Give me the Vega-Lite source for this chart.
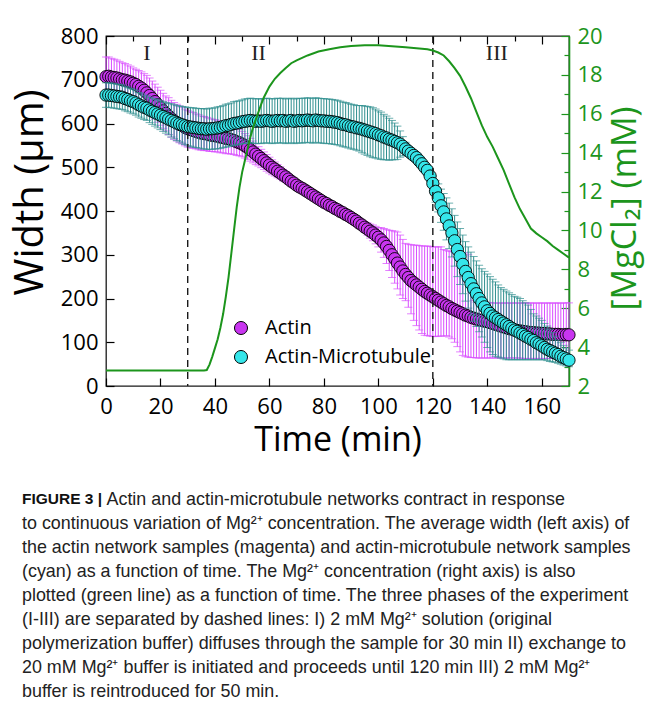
{
"$schema": "https://vega.github.io/schema/vega-lite/v6.json",
"width": 463, "height": 350,
"autosize": {"type": "none"},
"padding": {"left": 106, "top": 36, "right": 82, "bottom": 338},
"background": "white",
"config": {
  "view": {"stroke": "#1a1a1a", "strokeWidth": 1.3},
  "axis": {"grid": false, "labelFont": "Open Sans", "titleFont": "Open Sans", "labelColor": "black", "titleColor": "black", "titleFontWeight": "normal", "labelFlush": false, "labelOverlap": false, "tickColor": "black", "tickWidth": 1.2}
},
"title": {
  "text": "FIGURE 3 |",
  "subtitle": [
    "\u200b\u00a0\u00a0\u00a0\u00a0\u00a0\u00a0\u00a0\u00a0\u00a0\u00a0\u00a0\u00a0\u00a0\u00a0\u00a0\u00a0\u00a0Actin and actin-microtubule networks contract in response",
    "to continuous variation of Mg²⁺ concentration. The average width (left axis) of",
    "the actin network samples (magenta) and actin-microtubule network samples",
    "(cyan) as a function of time. The Mg²⁺ concentration (right axis) is also",
    "plotted (green line) as a function of time. The three phases of the experiment",
    "(I-III) are separated by dashed lines: I) 2 mM Mg²⁺ solution (original",
    "polymerization buffer) diffuses through the sample for 30 min II) exchange to",
    "20 mM Mg²⁺ buffer is initiated and proceeds until 120 min III) 2 mM Mg²⁺",
    "buffer is reintroduced for 50 min."
  ],
  "orient": "bottom", "anchor": "start", "frame": "group",
  "font": "Liberation Sans", "fontSize": 15.5, "fontWeight": "bold", "color": "#111111",
  "subtitleFont": "Liberation Sans", "subtitleFontSize": 17.9, "subtitleColor": "#222222", "subtitleLineHeight": 24,
  "subtitlePadding": -17,
  "dx": -84, "offset": 35
},
"datasets": {
"dash": [{"t": 30}, {"t": 120}],
"ph": [{"t": 15, "lab": "I"}, {"t": 56, "lab": "II"}, {"t": 143.5, "lab": "III"}],
"mg": [
{"t":0,"mg":2.8},{"t":10,"mg":2.8},{"t":20,"mg":2.8},{"t":30,"mg":2.8},{"t":36,"mg":2.8},{"t":37,"mg":2.82},{"t":38,"mg":3.1},{"t":39,"mg":3.5},{"t":40,"mg":3.95},{"t":41,"mg":4.4},{"t":42,"mg":5.0},{"t":43,"mg":5.7},{"t":44,"mg":6.6},{"t":45,"mg":7.6},{"t":46,"mg":8.8},{"t":47,"mg":10.0},{"t":48,"mg":11.2},{"t":49,"mg":12.2},{"t":50,"mg":13.0},{"t":51,"mg":13.6},{"t":52,"mg":14.2},{"t":53,"mg":14.8},{"t":54,"mg":15.3},{"t":55,"mg":15.7},{"t":56,"mg":16.1},{"t":57,"mg":16.5},{"t":58,"mg":16.85},{"t":60,"mg":17.4},{"t":62,"mg":17.8},{"t":64,"mg":18.1},{"t":66,"mg":18.35},{"t":68,"mg":18.6},{"t":70,"mg":18.75},{"t":74,"mg":19.0},{"t":78,"mg":19.2},{"t":82,"mg":19.32},{"t":86,"mg":19.42},{"t":90,"mg":19.48},{"t":95,"mg":19.53},{"t":100,"mg":19.52},{"t":105,"mg":19.47},{"t":110,"mg":19.42},{"t":115,"mg":19.36},{"t":118,"mg":19.32},{"t":120,"mg":19.25},{"t":122,"mg":19.15},{"t":124,"mg":19.0},{"t":126,"mg":18.7},{"t":128,"mg":18.35},{"t":130,"mg":17.95},{"t":132,"mg":17.4},{"t":134,"mg":16.8},{"t":136,"mg":16.1},{"t":138,"mg":15.4},{"t":140,"mg":14.8},{"t":142,"mg":14.3},{"t":144,"mg":13.7},{"t":146,"mg":13.1},{"t":148,"mg":12.4},{"t":150,"mg":11.7},{"t":152,"mg":11.1},{"t":154,"mg":10.6},{"t":156,"mg":10.1},{"t":158,"mg":9.85},{"t":160,"mg":9.65},{"t":162,"mg":9.45},{"t":164,"mg":9.2},{"t":166,"mg":9.0},{"t":168,"mg":8.8},{"t":170,"mg":8.6}
],
"w": [
{"t":0,"s":"Actin","w":707,"p":45,"n":-45},{"t":1,"s":"Actin","w":708,"p":44,"n":-44},{"t":2,"s":"Actin","w":706,"p":43,"n":-43},{"t":3,"s":"Actin","w":705,"p":42,"n":-42},{"t":4,"s":"Actin","w":704,"p":41,"n":-41},{"t":5,"s":"Actin","w":702,"p":40,"n":-40},{"t":6,"s":"Actin","w":700,"p":39,"n":-39},{"t":7,"s":"Actin","w":699,"p":38,"n":-38},{"t":8,"s":"Actin","w":697,"p":37,"n":-37},{"t":9,"s":"Actin","w":695,"p":36,"n":-36},
{"t":10,"s":"Actin","w":692,"p":35,"n":-35},{"t":11,"s":"Actin","w":689,"p":35,"n":-35},{"t":12,"s":"Actin","w":685,"p":36,"n":-36},{"t":13,"s":"Actin","w":681,"p":37,"n":-37},{"t":14,"s":"Actin","w":676,"p":38,"n":-38},{"t":15,"s":"Actin","w":670,"p":40,"n":-40},{"t":16,"s":"Actin","w":664,"p":40,"n":-40},{"t":17,"s":"Actin","w":657,"p":40,"n":-40},{"t":18,"s":"Actin","w":650,"p":40,"n":-40},{"t":19,"s":"Actin","w":643,"p":40,"n":-40},
{"t":20,"s":"Actin","w":636,"p":40,"n":-40},{"t":21,"s":"Actin","w":629,"p":40,"n":-40},{"t":22,"s":"Actin","w":623,"p":40,"n":-40},{"t":23,"s":"Actin","w":617,"p":42,"n":-42},{"t":24,"s":"Actin","w":611,"p":42,"n":-42},{"t":25,"s":"Actin","w":606,"p":42,"n":-42},{"t":26,"s":"Actin","w":602,"p":42,"n":-42},{"t":27,"s":"Actin","w":598,"p":42,"n":-42},{"t":28,"s":"Actin","w":595,"p":42,"n":-42},{"t":29,"s":"Actin","w":591,"p":42,"n":-42},
{"t":30,"s":"Actin","w":588,"p":42,"n":-42},{"t":31,"s":"Actin","w":586,"p":41,"n":-41},{"t":32,"s":"Actin","w":584,"p":41,"n":-41},{"t":33,"s":"Actin","w":582,"p":40,"n":-40},{"t":34,"s":"Actin","w":580,"p":40,"n":-40},{"t":35,"s":"Actin","w":578,"p":39,"n":-39},{"t":36,"s":"Actin","w":577,"p":39,"n":-39},{"t":37,"s":"Actin","w":576,"p":38,"n":-38},{"t":38,"s":"Actin","w":574,"p":38,"n":-38},{"t":39,"s":"Actin","w":573,"p":37,"n":-37},
{"t":40,"s":"Actin","w":572,"p":37,"n":-37},{"t":41,"s":"Actin","w":571,"p":36,"n":-36},{"t":42,"s":"Actin","w":569,"p":36,"n":-36},{"t":43,"s":"Actin","w":568,"p":35,"n":-35},{"t":44,"s":"Actin","w":566,"p":35,"n":-35},{"t":45,"s":"Actin","w":565,"p":34,"n":-34},{"t":46,"s":"Actin","w":563,"p":33,"n":-33},{"t":47,"s":"Actin","w":561,"p":32,"n":-32},{"t":48,"s":"Actin","w":558,"p":31,"n":-31},{"t":49,"s":"Actin","w":556,"p":30,"n":-30},
{"t":50,"s":"Actin","w":553,"p":29,"n":-29},{"t":51,"s":"Actin","w":549,"p":28,"n":-28},{"t":52,"s":"Actin","w":545,"p":27,"n":-27},{"t":53,"s":"Actin","w":540,"p":26,"n":-26},{"t":54,"s":"Actin","w":535,"p":25,"n":-25},{"t":55,"s":"Actin","w":530,"p":24,"n":-24},{"t":56,"s":"Actin","w":525,"p":22,"n":-22},{"t":57,"s":"Actin","w":520,"p":21,"n":-21},{"t":58,"s":"Actin","w":515,"p":20,"n":-20},{"t":59,"s":"Actin","w":510,"p":19,"n":-19},
{"t":60,"s":"Actin","w":505,"p":18,"n":-18},{"t":61,"s":"Actin","w":500,"p":17,"n":-17},{"t":62,"s":"Actin","w":496,"p":16,"n":-16},{"t":63,"s":"Actin","w":491,"p":15,"n":-15},{"t":64,"s":"Actin","w":487,"p":14,"n":-14},{"t":65,"s":"Actin","w":482,"p":13,"n":-13},{"t":66,"s":"Actin","w":478,"p":12,"n":-12},{"t":67,"s":"Actin","w":473,"p":11,"n":-11},{"t":68,"s":"Actin","w":468,"p":10,"n":-10},{"t":69,"s":"Actin","w":464,"p":10,"n":-10},
{"t":70,"s":"Actin","w":459,"p":10,"n":-10},{"t":71,"s":"Actin","w":455,"p":10,"n":-10},{"t":72,"s":"Actin","w":452,"p":10,"n":-10},{"t":73,"s":"Actin","w":448,"p":10,"n":-10},{"t":74,"s":"Actin","w":444,"p":10,"n":-10},{"t":75,"s":"Actin","w":440,"p":10,"n":-10},{"t":76,"s":"Actin","w":436,"p":10,"n":-10},{"t":77,"s":"Actin","w":432,"p":10,"n":-10},{"t":78,"s":"Actin","w":428,"p":10,"n":-10},{"t":79,"s":"Actin","w":424,"p":10,"n":-10},
{"t":80,"s":"Actin","w":420,"p":10,"n":-10},{"t":81,"s":"Actin","w":417,"p":10,"n":-10},{"t":82,"s":"Actin","w":413,"p":10,"n":-10},{"t":83,"s":"Actin","w":410,"p":10,"n":-10},{"t":84,"s":"Actin","w":406,"p":10,"n":-10},{"t":85,"s":"Actin","w":403,"p":10,"n":-10},{"t":86,"s":"Actin","w":399,"p":10,"n":-10},{"t":87,"s":"Actin","w":396,"p":10,"n":-10},{"t":88,"s":"Actin","w":392,"p":10,"n":-10},{"t":89,"s":"Actin","w":389,"p":10,"n":-10},
{"t":90,"s":"Actin","w":385,"p":10,"n":-10},{"t":91,"s":"Actin","w":381,"p":10,"n":-10},{"t":92,"s":"Actin","w":377,"p":10,"n":-10},{"t":93,"s":"Actin","w":372,"p":10,"n":-10},{"t":94,"s":"Actin","w":368,"p":10,"n":-10},{"t":95,"s":"Actin","w":363,"p":12,"n":-12},{"t":96,"s":"Actin","w":359,"p":14,"n":-14},{"t":97,"s":"Actin","w":354,"p":16,"n":-16},{"t":98,"s":"Actin","w":350,"p":18,"n":-18},{"t":99,"s":"Actin","w":345,"p":20,"n":-20},
{"t":100,"s":"Actin","w":340,"p":22,"n":-22},{"t":101,"s":"Actin","w":334,"p":28,"n":-28},{"t":102,"s":"Actin","w":327,"p":33,"n":-33},{"t":103,"s":"Actin","w":319,"p":39,"n":-39},{"t":104,"s":"Actin","w":310,"p":46,"n":-46},{"t":105,"s":"Actin","w":300,"p":55,"n":-52},{"t":106,"s":"Actin","w":291,"p":63,"n":-56},{"t":107,"s":"Actin","w":281,"p":71,"n":-59},{"t":108,"s":"Actin","w":272,"p":73,"n":-64},{"t":109,"s":"Actin","w":263,"p":72,"n":-63},
{"t":110,"s":"Actin","w":255,"p":71,"n":-60},{"t":111,"s":"Actin","w":248,"p":76,"n":-68},{"t":112,"s":"Actin","w":241,"p":82,"n":-76},{"t":113,"s":"Actin","w":236,"p":86,"n":-86},{"t":114,"s":"Actin","w":231,"p":91,"n":-93},{"t":115,"s":"Actin","w":226,"p":95,"n":-98},{"t":116,"s":"Actin","w":221,"p":99,"n":-101},{"t":117,"s":"Actin","w":216,"p":104,"n":-100},{"t":118,"s":"Actin","w":212,"p":108,"n":-97},{"t":119,"s":"Actin","w":208,"p":111,"n":-94},
{"t":120,"s":"Actin","w":204,"p":114,"n":-91},{"t":121,"s":"Actin","w":200,"p":118,"n":-87},{"t":122,"s":"Actin","w":196,"p":122,"n":-82},{"t":123,"s":"Actin","w":192,"p":126,"n":-78},{"t":124,"s":"Actin","w":188,"p":124,"n":-74},{"t":125,"s":"Actin","w":184,"p":126,"n":-69},{"t":126,"s":"Actin","w":181,"p":127,"n":-69},{"t":127,"s":"Actin","w":177,"p":130,"n":-69},{"t":128,"s":"Actin","w":174,"p":132,"n":-74},{"t":129,"s":"Actin","w":171,"p":134,"n":-81},
{"t":130,"s":"Actin","w":168,"p":137,"n":-90},{"t":131,"s":"Actin","w":165,"p":140,"n":-95},{"t":132,"s":"Actin","w":162,"p":142,"n":-95},{"t":133,"s":"Actin","w":160,"p":140,"n":-94},{"t":134,"s":"Actin","w":157,"p":83,"n":-92},{"t":135,"s":"Actin","w":155,"p":40,"n":-90},{"t":136,"s":"Actin","w":153,"p":38,"n":-89},{"t":137,"s":"Actin","w":151,"p":39,"n":-87},{"t":138,"s":"Actin","w":150,"p":40,"n":-86},{"t":139,"s":"Actin","w":148,"p":41,"n":-84},
{"t":140,"s":"Actin","w":147,"p":43,"n":-83},{"t":141,"s":"Actin","w":145,"p":46,"n":-81},{"t":142,"s":"Actin","w":143,"p":47,"n":-79},{"t":143,"s":"Actin","w":141,"p":48,"n":-77},{"t":144,"s":"Actin","w":139,"p":51,"n":-75},{"t":145,"s":"Actin","w":137,"p":53,"n":-73},{"t":146,"s":"Actin","w":135,"p":54,"n":-71},{"t":147,"s":"Actin","w":133,"p":57,"n":-69},{"t":148,"s":"Actin","w":131,"p":59,"n":-67},{"t":149,"s":"Actin","w":130,"p":59,"n":-66},
{"t":150,"s":"Actin","w":128,"p":62,"n":-64},{"t":151,"s":"Actin","w":127,"p":63,"n":-63},{"t":152,"s":"Actin","w":126,"p":63,"n":-62},{"t":153,"s":"Actin","w":125,"p":65,"n":-62},{"t":154,"s":"Actin","w":124,"p":66,"n":-61},{"t":155,"s":"Actin","w":123,"p":66,"n":-60},{"t":156,"s":"Actin","w":122,"p":68,"n":-59},{"t":157,"s":"Actin","w":122,"p":68,"n":-59},{"t":158,"s":"Actin","w":121,"p":68,"n":-58},{"t":159,"s":"Actin","w":121,"p":69,"n":-58},
{"t":160,"s":"Actin","w":120,"p":70,"n":-57},{"t":161,"s":"Actin","w":120,"p":69,"n":-57},{"t":162,"s":"Actin","w":119,"p":71,"n":-56},{"t":163,"s":"Actin","w":119,"p":71,"n":-56},{"t":164,"s":"Actin","w":118,"p":71,"n":-55},{"t":165,"s":"Actin","w":118,"p":72,"n":-55},{"t":166,"s":"Actin","w":118,"p":72,"n":-55},{"t":167,"s":"Actin","w":117,"p":72,"n":-54},{"t":168,"s":"Actin","w":117,"p":73,"n":-54},{"t":169,"s":"Actin","w":117,"p":73,"n":-54},{"t":170,"s":"Actin","w":117,"p":73,"n":-54},
{"t":0,"s":"Actin-Microtubule","w":665,"p":28,"n":-28},{"t":1,"s":"Actin-Microtubule","w":665,"p":28,"n":-28},{"t":2,"s":"Actin-Microtubule","w":664,"p":28,"n":-28},{"t":3,"s":"Actin-Microtubule","w":663,"p":28,"n":-28},{"t":4,"s":"Actin-Microtubule","w":662,"p":28,"n":-28},{"t":5,"s":"Actin-Microtubule","w":661,"p":28,"n":-28},{"t":6,"s":"Actin-Microtubule","w":660,"p":28,"n":-28},{"t":7,"s":"Actin-Microtubule","w":657,"p":28,"n":-28},{"t":8,"s":"Actin-Microtubule","w":655,"p":28,"n":-28},{"t":9,"s":"Actin-Microtubule","w":652,"p":28,"n":-28},
{"t":10,"s":"Actin-Microtubule","w":650,"p":28,"n":-28},{"t":11,"s":"Actin-Microtubule","w":647,"p":28,"n":-28},{"t":12,"s":"Actin-Microtubule","w":643,"p":28,"n":-28},{"t":13,"s":"Actin-Microtubule","w":640,"p":28,"n":-28},{"t":14,"s":"Actin-Microtubule","w":637,"p":28,"n":-28},{"t":15,"s":"Actin-Microtubule","w":635,"p":28,"n":-28},{"t":16,"s":"Actin-Microtubule","w":631,"p":29,"n":-29},{"t":17,"s":"Actin-Microtubule","w":628,"p":30,"n":-30},{"t":18,"s":"Actin-Microtubule","w":625,"p":31,"n":-31},{"t":19,"s":"Actin-Microtubule","w":622,"p":32,"n":-32},
{"t":20,"s":"Actin-Microtubule","w":619,"p":33,"n":-33},{"t":21,"s":"Actin-Microtubule","w":616,"p":34,"n":-34},{"t":22,"s":"Actin-Microtubule","w":613,"p":35,"n":-35},{"t":23,"s":"Actin-Microtubule","w":610,"p":36,"n":-36},{"t":24,"s":"Actin-Microtubule","w":607,"p":38,"n":-38},{"t":25,"s":"Actin-Microtubule","w":604,"p":39,"n":-39},{"t":26,"s":"Actin-Microtubule","w":601,"p":40,"n":-40},{"t":27,"s":"Actin-Microtubule","w":599,"p":41,"n":-41},{"t":28,"s":"Actin-Microtubule","w":597,"p":42,"n":-42},{"t":29,"s":"Actin-Microtubule","w":595,"p":43,"n":-43},
{"t":30,"s":"Actin-Microtubule","w":593,"p":44,"n":-44},{"t":31,"s":"Actin-Microtubule","w":592,"p":44,"n":-44},{"t":32,"s":"Actin-Microtubule","w":591,"p":45,"n":-45},{"t":33,"s":"Actin-Microtubule","w":590,"p":45,"n":-45},{"t":34,"s":"Actin-Microtubule","w":589,"p":45,"n":-45},{"t":35,"s":"Actin-Microtubule","w":588,"p":46,"n":-46},{"t":36,"s":"Actin-Microtubule","w":588,"p":46,"n":-46},{"t":37,"s":"Actin-Microtubule","w":587,"p":46,"n":-46},{"t":38,"s":"Actin-Microtubule","w":588,"p":47,"n":-47},{"t":39,"s":"Actin-Microtubule","w":588,"p":47,"n":-47},
{"t":40,"s":"Actin-Microtubule","w":589,"p":47,"n":-47},{"t":41,"s":"Actin-Microtubule","w":590,"p":48,"n":-48},{"t":42,"s":"Actin-Microtubule","w":591,"p":48,"n":-48},{"t":43,"s":"Actin-Microtubule","w":593,"p":48,"n":-48},{"t":44,"s":"Actin-Microtubule","w":595,"p":49,"n":-49},{"t":45,"s":"Actin-Microtubule","w":596,"p":49,"n":-49},{"t":46,"s":"Actin-Microtubule","w":598,"p":49,"n":-49},{"t":47,"s":"Actin-Microtubule","w":600,"p":50,"n":-50},{"t":48,"s":"Actin-Microtubule","w":601,"p":50,"n":-50},{"t":49,"s":"Actin-Microtubule","w":602,"p":50,"n":-50},
{"t":50,"s":"Actin-Microtubule","w":604,"p":50,"n":-50},{"t":51,"s":"Actin-Microtubule","w":605,"p":51,"n":-51},{"t":52,"s":"Actin-Microtubule","w":606,"p":51,"n":-51},{"t":53,"s":"Actin-Microtubule","w":607,"p":51,"n":-51},{"t":54,"s":"Actin-Microtubule","w":606,"p":51,"n":-51},{"t":55,"s":"Actin-Microtubule","w":605,"p":51,"n":-51},{"t":56,"s":"Actin-Microtubule","w":606,"p":51,"n":-51},{"t":57,"s":"Actin-Microtubule","w":605,"p":51,"n":-51},{"t":58,"s":"Actin-Microtubule","w":606,"p":51,"n":-51},{"t":59,"s":"Actin-Microtubule","w":607,"p":51,"n":-51},
{"t":60,"s":"Actin-Microtubule","w":606,"p":51,"n":-51},{"t":61,"s":"Actin-Microtubule","w":605,"p":51,"n":-51},{"t":62,"s":"Actin-Microtubule","w":606,"p":51,"n":-51},{"t":63,"s":"Actin-Microtubule","w":607,"p":51,"n":-51},{"t":64,"s":"Actin-Microtubule","w":606,"p":51,"n":-51},{"t":65,"s":"Actin-Microtubule","w":607,"p":51,"n":-51},{"t":66,"s":"Actin-Microtubule","w":605,"p":51,"n":-51},{"t":67,"s":"Actin-Microtubule","w":606,"p":51,"n":-51},{"t":68,"s":"Actin-Microtubule","w":607,"p":51,"n":-51},{"t":69,"s":"Actin-Microtubule","w":605,"p":51,"n":-51},
{"t":70,"s":"Actin-Microtubule","w":606,"p":51,"n":-51},{"t":71,"s":"Actin-Microtubule","w":607,"p":51,"n":-51},{"t":72,"s":"Actin-Microtubule","w":606,"p":51,"n":-51},{"t":73,"s":"Actin-Microtubule","w":607,"p":51,"n":-51},{"t":74,"s":"Actin-Microtubule","w":608,"p":51,"n":-51},{"t":75,"s":"Actin-Microtubule","w":607,"p":51,"n":-51},{"t":76,"s":"Actin-Microtubule","w":606,"p":51,"n":-51},{"t":77,"s":"Actin-Microtubule","w":608,"p":51,"n":-51},{"t":78,"s":"Actin-Microtubule","w":607,"p":51,"n":-51},{"t":79,"s":"Actin-Microtubule","w":606,"p":51,"n":-51},
{"t":80,"s":"Actin-Microtubule","w":606,"p":51,"n":-51},{"t":81,"s":"Actin-Microtubule","w":605,"p":51,"n":-51},{"t":82,"s":"Actin-Microtubule","w":605,"p":51,"n":-51},{"t":83,"s":"Actin-Microtubule","w":604,"p":51,"n":-51},{"t":84,"s":"Actin-Microtubule","w":603,"p":51,"n":-51},{"t":85,"s":"Actin-Microtubule","w":602,"p":51,"n":-51},{"t":86,"s":"Actin-Microtubule","w":600,"p":51,"n":-51},{"t":87,"s":"Actin-Microtubule","w":598,"p":51,"n":-51},{"t":88,"s":"Actin-Microtubule","w":597,"p":51,"n":-51},{"t":89,"s":"Actin-Microtubule","w":595,"p":51,"n":-51},
{"t":90,"s":"Actin-Microtubule","w":593,"p":51,"n":-51},{"t":91,"s":"Actin-Microtubule","w":592,"p":51,"n":-51},{"t":92,"s":"Actin-Microtubule","w":590,"p":51,"n":-51},{"t":93,"s":"Actin-Microtubule","w":589,"p":52,"n":-52},{"t":94,"s":"Actin-Microtubule","w":587,"p":54,"n":-54},{"t":95,"s":"Actin-Microtubule","w":585,"p":55,"n":-55},{"t":96,"s":"Actin-Microtubule","w":583,"p":56,"n":-56},{"t":97,"s":"Actin-Microtubule","w":581,"p":57,"n":-57},{"t":98,"s":"Actin-Microtubule","w":579,"p":57,"n":-57},{"t":99,"s":"Actin-Microtubule","w":577,"p":56,"n":-56},
{"t":100,"s":"Actin-Microtubule","w":574,"p":55,"n":-55},{"t":101,"s":"Actin-Microtubule","w":572,"p":54,"n":-54},{"t":102,"s":"Actin-Microtubule","w":569,"p":52,"n":-52},{"t":103,"s":"Actin-Microtubule","w":567,"p":50,"n":-50},{"t":104,"s":"Actin-Microtubule","w":564,"p":48,"n":-48},{"t":105,"s":"Actin-Microtubule","w":562,"p":45,"n":-45},{"t":106,"s":"Actin-Microtubule","w":559,"p":42,"n":-42},{"t":107,"s":"Actin-Microtubule","w":556,"p":38,"n":-38},{"t":108,"s":"Actin-Microtubule","w":553,"p":30,"n":-30},{"t":109,"s":"Actin-Microtubule","w":548,"p":22,"n":-22},
{"t":110,"s":"Actin-Microtubule","w":542,"p":15,"n":-15},{"t":111,"s":"Actin-Microtubule","w":537,"p":10,"n":-10},{"t":112,"s":"Actin-Microtubule","w":532,"p":10,"n":-10},{"t":113,"s":"Actin-Microtubule","w":527,"p":10,"n":-10},{"t":114,"s":"Actin-Microtubule","w":522,"p":10,"n":-10},{"t":115,"s":"Actin-Microtubule","w":515,"p":10,"n":-10},{"t":116,"s":"Actin-Microtubule","w":508,"p":10,"n":-10},{"t":117,"s":"Actin-Microtubule","w":500,"p":10,"n":-10},{"t":118,"s":"Actin-Microtubule","w":493,"p":10,"n":-10},{"t":119,"s":"Actin-Microtubule","w":480,"p":12,"n":-12},
{"t":120,"s":"Actin-Microtubule","w":463,"p":17,"n":-17},{"t":121,"s":"Actin-Microtubule","w":445,"p":25,"n":-25},{"t":122,"s":"Actin-Microtubule","w":430,"p":32,"n":-32},{"t":123,"s":"Actin-Microtubule","w":412,"p":38,"n":-38},{"t":124,"s":"Actin-Microtubule","w":398,"p":42,"n":-42},{"t":125,"s":"Actin-Microtubule","w":382,"p":48,"n":-48},{"t":126,"s":"Actin-Microtubule","w":366,"p":52,"n":-52},{"t":127,"s":"Actin-Microtubule","w":350,"p":55,"n":-55},{"t":128,"s":"Actin-Microtubule","w":332,"p":58,"n":-58},{"t":129,"s":"Actin-Microtubule","w":312,"p":63,"n":-62},
{"t":130,"s":"Actin-Microtubule","w":296,"p":64,"n":-64},{"t":131,"s":"Actin-Microtubule","w":278,"p":67,"n":-67},{"t":132,"s":"Actin-Microtubule","w":262,"p":68,"n":-68},{"t":133,"s":"Actin-Microtubule","w":248,"p":70,"n":-70},{"t":134,"s":"Actin-Microtubule","w":234,"p":72,"n":-72},{"t":135,"s":"Actin-Microtubule","w":222,"p":74,"n":-74},{"t":136,"s":"Actin-Microtubule","w":211,"p":75,"n":-75},{"t":137,"s":"Actin-Microtubule","w":200,"p":76,"n":-76},{"t":138,"s":"Actin-Microtubule","w":190,"p":78,"n":-78},{"t":139,"s":"Actin-Microtubule","w":181,"p":81,"n":-81},
{"t":140,"s":"Actin-Microtubule","w":172,"p":84,"n":-84},{"t":141,"s":"Actin-Microtubule","w":166,"p":84,"n":-88},{"t":142,"s":"Actin-Microtubule","w":160,"p":84,"n":-88},{"t":143,"s":"Actin-Microtubule","w":156,"p":82,"n":-88},{"t":144,"s":"Actin-Microtubule","w":152,"p":79,"n":-86},{"t":145,"s":"Actin-Microtubule","w":148,"p":77,"n":-84},{"t":146,"s":"Actin-Microtubule","w":144,"p":77,"n":-82},{"t":147,"s":"Actin-Microtubule","w":140,"p":77,"n":-80},{"t":148,"s":"Actin-Microtubule","w":136,"p":77,"n":-76},{"t":149,"s":"Actin-Microtubule","w":132,"p":77,"n":-72},
{"t":150,"s":"Actin-Microtubule","w":128,"p":77,"n":-68},{"t":151,"s":"Actin-Microtubule","w":125,"p":78,"n":-65},{"t":152,"s":"Actin-Microtubule","w":121,"p":79,"n":-61},{"t":153,"s":"Actin-Microtubule","w":118,"p":77,"n":-58},{"t":154,"s":"Actin-Microtubule","w":114,"p":76,"n":-54},{"t":155,"s":"Actin-Microtubule","w":111,"p":74,"n":-51},{"t":156,"s":"Actin-Microtubule","w":107,"p":68,"n":-47},{"t":157,"s":"Actin-Microtubule","w":104,"p":61,"n":-44},{"t":158,"s":"Actin-Microtubule","w":99,"p":61,"n":-39},{"t":159,"s":"Actin-Microtubule","w":96,"p":59,"n":-36},
{"t":160,"s":"Actin-Microtubule","w":92,"p":58,"n":-32},{"t":161,"s":"Actin-Microtubule","w":88,"p":55,"n":-28},{"t":162,"s":"Actin-Microtubule","w":84,"p":53,"n":-26},{"t":163,"s":"Actin-Microtubule","w":81,"p":49,"n":-25},{"t":164,"s":"Actin-Microtubule","w":78,"p":44,"n":-23},{"t":165,"s":"Actin-Microtubule","w":75,"p":39,"n":-21},{"t":166,"s":"Actin-Microtubule","w":72,"p":33,"n":-20},{"t":167,"s":"Actin-Microtubule","w":68,"p":31,"n":-18},{"t":168,"s":"Actin-Microtubule","w":65,"p":28,"n":-17},{"t":169,"s":"Actin-Microtubule","w":62,"p":25,"n":-16},{"t":170,"s":"Actin-Microtubule","w":59,"p":23,"n":-15}
]
},
"layer": [
 {
  "layer": [
    {"data": {"name": "w"}, "transform": [{"filter": "datum.s == 'Actin'"}],
     "mark": {"type": "errorbar", "ticks": {"size": 8}, "color": "#D84DFF", "thickness": 1},
     "encoding": {
      "x": {"field": "t", "type": "quantitative", "title": "Time (min)", "scale": {"domain": [0, 170], "nice": false},
        "axis": {"orient": "bottom", "domain": false, "values": [0,10,20,30,40,50,60,70,80,90,100,110,120,130,140,150,160],
          "labelExpr": "datum.value % 20 === 0 ? datum.label : ''",
          "tickSize": {"condition": {"test": "datum.value % 20 === 0", "value": -8}, "value": -5},
          "labelPadding": 18, "labelFontSize": 22, "titleFontSize": 34, "titlePadding": 6}},
      "y": {"field": "w", "type": "quantitative", "title": "Width (μm)", "scale": {"domain": [0, 800], "nice": false},
        "axis": {"orient": "left", "domain": false, "values": [0,50,100,150,200,250,300,350,400,450,500,550,600,650,700,750,800],
          "labelExpr": "datum.value % 100 === 0 ? datum.label : ''",
          "tickSize": {"condition": {"test": "datum.value % 100 === 0", "value": -8}, "value": -5},
          "labelPadding": 16, "labelFontSize": 22, "titleFontSize": 40,
          "titleX": -76, "titleY": 156, "titleBaseline": "middle", "titleAngle": 270}},
      "yError": {"field": "p"}, "yError2": {"field": "n"}}},
    {"data": {"name": "w"}, "transform": [{"filter": "datum.s == 'Actin'"}],
     "mark": {"type": "circle", "size": 150, "stroke": "black", "strokeWidth": 0.9, "opacity": 1},
     "encoding": {
       "x": {"field": "t", "type": "quantitative", "title": "Time (min)"},
       "y": {"field": "w", "type": "quantitative", "title": "Width (μm)"},
       "color": {"field": "s", "type": "nominal", "scale": {"domain": ["Actin", "Actin-Microtubule"], "range": ["#C935F0", "#35E6EA"]},
       "legend": {"orient": "none", "legendX": 125, "legendY": 282, "title": null, "labelFont": "Open Sans", "labelFontSize": 20, "labelColor": "black", "labelLimit": 400, "symbolType": "circle", "symbolSize": 170, "symbolStrokeColor": "black", "symbolStrokeWidth": 1, "symbolOpacity": 1, "rowPadding": 9, "labelOffset": 14, "padding": 0}}}},
    {"data": {"name": "w"}, "transform": [{"filter": "datum.s == 'Actin-Microtubule'"}],
     "mark": {"type": "errorbar", "ticks": {"size": 8}, "color": "#2E8E8E", "thickness": 1},
     "encoding": {
       "x": {"field": "t", "type": "quantitative", "title": "Time (min)"},
       "y": {"field": "w", "type": "quantitative", "title": "Width (μm)"},
       "yError": {"field": "p"}, "yError2": {"field": "n"}}},
    {"data": {"name": "w"}, "transform": [{"filter": "datum.s == 'Actin-Microtubule'"}],
     "mark": {"type": "circle", "size": 150, "stroke": "black", "strokeWidth": 0.9, "opacity": 1},
     "encoding": {
       "x": {"field": "t", "type": "quantitative", "title": "Time (min)"},
       "y": {"field": "w", "type": "quantitative", "title": "Width (μm)"},
       "color": {"field": "s", "type": "nominal", "scale": {"domain": ["Actin", "Actin-Microtubule"], "range": ["#C935F0", "#35E6EA"]},
       "legend": {"orient": "none", "legendX": 125, "legendY": 282, "title": null, "labelFont": "Open Sans", "labelFontSize": 20, "labelColor": "black", "labelLimit": 400, "symbolType": "circle", "symbolSize": 170, "symbolStrokeColor": "black", "symbolStrokeWidth": 1, "symbolOpacity": 1, "rowPadding": 9, "labelOffset": 14, "padding": 0}}}},
    {"data": {"name": "dash"}, "mark": {"type": "rule", "color": "#1a1a1a", "strokeWidth": 1.4, "strokeDash": [7, 5]},
     "encoding": {"x": {"field": "t", "type": "quantitative", "title": "Time (min)"}}},
    {"data": {"name": "ph"}, "mark": {"type": "text", "font": "Liberation Serif", "fontSize": 22, "color": "#222222", "baseline": "middle", "align": "center"},
     "encoding": {"x": {"field": "t", "type": "quantitative", "title": "Time (min)"}, "y": {"datum": 762}, "text": {"field": "lab"}}}
  ]
 },
 {
  "data": {"name": "mg"},
  "mark": {"type": "line", "color": "#1C951C", "strokeWidth": 2},
  "encoding": {
    "x": {"field": "t", "type": "quantitative", "scale": {"domain": [0, 170], "nice": false},
      "axis": {"orient": "top", "labels": false, "title": null, "domain": false,
        "values": [0,10,20,30,40,50,60,70,80,90,100,110,120,130,140,150,160],
        "tickSize": {"condition": {"test": "datum.value % 20 === 0", "value": -8}, "value": -5}}},
    "y": {"field": "mg", "type": "quantitative", "scale": {"domain": [2, 20], "nice": false},
      "axis": {"orient": "right", "domain": true, "domainColor": "#1C951C", "domainWidth": 1.6,
        "values": [2,3,4,5,6,7,8,9,10,11,12,13,14,15,16,17,18,19,20],
        "labelExpr": "datum.value % 2 === 0 ? datum.label : ''",
        "tickColor": "#1C951C",
        "tickSize": {"condition": {"test": "datum.value % 2 === 0", "value": -8}, "value": -5},
        "labelPadding": 16, "labelFontSize": 22, "labelColor": "#1C951C",
        "title": "[MgCl₂] (mM)", "titleColor": "#1C951C", "titleFontSize": 34,
        "titleX": 56, "titleY": 172, "titleBaseline": "middle", "titleAngle": 270}}
  }
 }
],
"resolve": {"scale": {"y": "independent"}, "axis": {"x": "independent", "y": "independent"}}
}
